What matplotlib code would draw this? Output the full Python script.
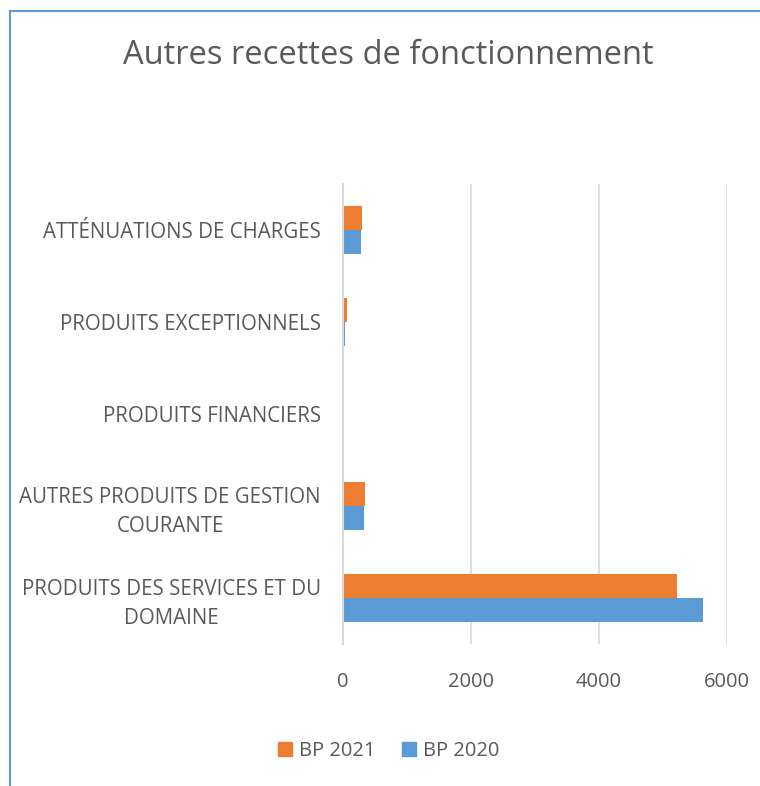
import matplotlib
matplotlib.use("Agg")
import matplotlib.pyplot as plt
import numpy as np
from matplotlib.lines import Line2D

categories = [
    "PRODUITS DES SERVICES ET DU\nDOMAINE",
    "AUTRES PRODUITS DE GESTION\nCOURANTE",
    "PRODUITS FINANCIERS",
    "PRODUITS EXCEPTIONNELS",
    "ATTÉNUATIONS DE CHARGES",
]
bp_2021 = [5225, 340, 0, 55, 290]
bp_2020 = [5630, 333, 0, 25, 280]
x_ticks = [0, 2000, 4000, 6000]

TEXT = "#595959"
ORANGE = "#ED7D31"
BLUE = "#5B9BD5"

plt.rcParams["font.family"] = ["Open Sans", "DejaVu Sans"]

fig = plt.figure(figsize=(7.6, 7.86), dpi=100)
ax = fig.add_axes([0.4513, 0.1807, 0.5053, 0.5852])

y = np.arange(len(categories))
h = 0.26
ax.barh(y + h / 2, bp_2021, height=h, color=ORANGE, label="BP 2021", zorder=3)
ax.barh(y - h / 2, bp_2020, height=h, color=BLUE, label="BP 2020", zorder=3)

ax.set_ylim(-0.5, len(categories) - 0.5)
ax.set_xlim(0, 6000)
ax.set_xticks(x_ticks)
ax.set_yticks(y)
ax.set_yticklabels(categories, fontsize=14.8, color=TEXT, multialignment="center",
                   linespacing=1.45)
ax.tick_params(axis="y", length=0, pad=16)
ax.tick_params(axis="x", length=0, pad=20, labelsize=14.5, labelcolor=TEXT)
ax.grid(axis="x", color="#D9D9D9", linewidth=1.2, zorder=0)
for s in ["top", "right", "bottom"]:
    ax.spines[s].set_visible(False)
ax.spines["left"].set_color("#D9D9D9")
ax.spines["left"].set_linewidth(1.5)
ax.spines["left"].set_zorder(4)

fig.text(0.511, 0.929, "Autres recettes de fonctionnement", ha="center", va="center",
         fontsize=23.5, color=TEXT)

handles = [
    plt.Rectangle((0, 0), 1, 1, color=ORANGE),
    plt.Rectangle((0, 0), 1, 1, color=BLUE),
]
fig.legend(handles, ["BP 2021", "BP 2020"], loc="center", bbox_to_anchor=(0.511, 0.045),
           ncol=2, frameon=False, fontsize=14.5, labelcolor=TEXT,
           handlelength=0.7, handleheight=0.7, handletextpad=0.35, columnspacing=1.3)

# blue chart border (only top and left are visible in the crop)
fig.add_artist(Line2D([0.0135, 1.0], [0.986, 0.986], transform=fig.transFigure,
                      color=BLUE, linewidth=1.5))
fig.add_artist(Line2D([0.0135, 0.0135], [0.0, 0.986], transform=fig.transFigure,
                      color=BLUE, linewidth=1.5))

fig.savefig("out.png", dpi=100, facecolor="white")
